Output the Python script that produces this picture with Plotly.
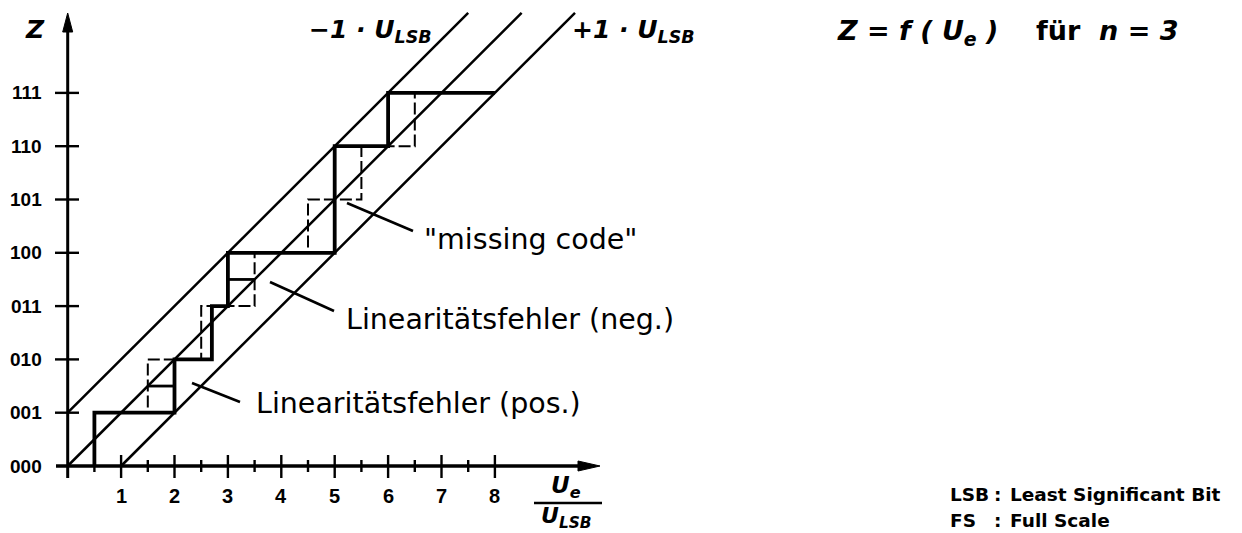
import plotly.graph_objects as go

# ---------------- data ----------------
codes = ["000", "001", "010", "011", "100", "101", "110", "111"]
x_tick_values = [1, 2, 3, 4, 5, 6, 7, 8]
x_tick_labels = ["1", "2", "3", "4", "5", "6", "7", "8"]
# input voltage (in U_LSB) at which the output code steps k -> k+1
ideal_transitions = [0.5, 1.5, 2.5, 3.5, 4.5, 5.5, 6.5]
real_transitions = [0.5, 2.0, 2.7, 3.0, 5.0, 5.0, 6.0]
ue_full_scale = 8.0
error_steps = [1, 3]          # steps whose linearity error is dimensioned
band_offsets = [-1, 0, 1]     # tolerance band lines, in U_LSB
band_top = 8.5

# ---------------- geometry (pixels -> data units) ----------------
W, H = 1242, 533
OX, OY = 67.7, 466.0          # pixel position of the origin
SX, SY = 53.4, 53.3           # pixels per U_LSB / per code


def dx(px):
    return (px - OX) / SX


def dy(py):
    return (OY - py) / SY


X_RANGE = [dx(0), dx(W)]
Y_RANGE = [dy(H), dy(0)]

BLACK = "#000000"
TEXT_FONT = "DejaVu Sans, Liberation Sans, Arial, sans-serif"
TICK_FONT = "Liberation Sans, Arial, sans-serif"


def staircase(transitions, end):
    xs, ys = [], []
    for k, t in enumerate(transitions):
        xs += [t, t]
        ys += [k, k + 1]
    xs.append(end)
    ys.append(len(transitions))
    return xs, ys


fig = go.Figure()

# tolerance band: Z = Ue - offset
for off in band_offsets:
    z0 = max(0.0, -off)
    fig.add_trace(go.Scatter(
        x=[z0 + off, band_top + off], y=[z0, band_top], mode="lines",
        line=dict(color=BLACK, width=2.5), hoverinfo="skip", showlegend=False))

# ideal transfer characteristic (dashed)
xi, yi = staircase(ideal_transitions, ue_full_scale)
fig.add_trace(go.Scatter(
    x=xi, y=yi, mode="lines",
    line=dict(color=BLACK, width=2.0, dash="12px,4px"),
    hoverinfo="skip", showlegend=False))

# real transfer characteristic (solid, heavy)
xr, yr = staircase(real_transitions, ue_full_scale)
fig.add_trace(go.Scatter(
    x=xr, y=yr, mode="lines",
    line=dict(color=BLACK, width=3.8),
    hoverinfo="skip", showlegend=False))

# horizontal dimension of the linearity errors at half step height
for k in error_steps:
    a, b = sorted([ideal_transitions[k], real_transitions[k]])
    fig.add_trace(go.Scatter(
        x=[a, b], y=[k + 0.5, k + 0.5], mode="lines",
        line=dict(color=BLACK, width=2.8), hoverinfo="skip", showlegend=False))

# ---------------- axes ----------------
x_tip = dx(600)
y_tip = dy(13)
head_len_x, head_half_x = 22 / SX, 5 / SY
head_len_y, head_half_y = 19 / SY, 5 / SX

fig.add_trace(go.Scatter(
    x=[dx(56), x_tip - head_len_x], y=[0, 0], mode="lines",
    line=dict(color=BLACK, width=3.4), hoverinfo="skip", showlegend=False))
fig.add_trace(go.Scatter(
    x=[0, 0], y=[dy(478), y_tip - head_len_y], mode="lines",
    line=dict(color=BLACK, width=3.0), hoverinfo="skip", showlegend=False))
# arrow heads
fig.add_trace(go.Scatter(
    x=[x_tip, x_tip - head_len_x, x_tip - head_len_x, x_tip],
    y=[0, head_half_x, -head_half_x, 0], mode="lines", fill="toself",
    fillcolor=BLACK, line=dict(color=BLACK, width=1),
    hoverinfo="skip", showlegend=False))
fig.add_trace(go.Scatter(
    x=[0, head_half_y, -head_half_y, 0],
    y=[y_tip, y_tip - head_len_y, y_tip - head_len_y, y_tip], mode="lines",
    fill="toself", fillcolor=BLACK, line=dict(color=BLACK, width=1),
    hoverinfo="skip", showlegend=False))

# tick marks
tx, ty = [], []
for v in x_tick_values:
    tx += [v, v, None]
    ty += [dy(455), dy(478), None]
for v in x_tick_values:
    m = v - 0.5
    tx += [m, m, None]
    ty += [dy(460), dy(472), None]
for k in range(1, len(codes)):
    tx += [dx(55), dx(79), None]
    ty += [k, k, None]
fig.add_trace(go.Scatter(
    x=tx, y=ty, mode="lines", line=dict(color=BLACK, width=2.4),
    hoverinfo="skip", showlegend=False, connectgaps=False))

annotations = []

# y tick labels (output codes)
for k, c in enumerate(codes):
    annotations.append(dict(
        x=dx(44), y=k, xref="x", yref="y", text="<b>%s</b>" % c,
        showarrow=False, xanchor="right", yanchor="middle",
        font=dict(family=TICK_FONT, size=19, color=BLACK)))

# x tick labels
for v, lab in zip(x_tick_values, x_tick_labels):
    annotations.append(dict(
        x=v, y=dy(496), xref="x", yref="y", text="<b>%s</b>" % lab,
        showarrow=False, xanchor="center", yanchor="middle",
        font=dict(family=TICK_FONT, size=20, color=BLACK)))

# axis titles
annotations.append(dict(
    x=dx(35), y=dy(29), xref="x", yref="y", text="<b><i>Z</i></b>",
    showarrow=False, xanchor="center", yanchor="middle",
    font=dict(family=TEXT_FONT, size=25, color=BLACK)))
annotations.append(dict(
    x=dx(566), y=dy(487), xref="x", yref="y", text="<b><i>U<sub>e</sub></i></b>",
    showarrow=False, xanchor="center", yanchor="middle",
    font=dict(family=TEXT_FONT, size=23, color=BLACK)))
annotations.append(dict(
    x=dx(566), y=dy(517), xref="x", yref="y", text="<b><i>U<sub>LSB</sub></i></b>",
    showarrow=False, xanchor="center", yanchor="middle",
    font=dict(family=TEXT_FONT, size=22, color=BLACK)))

shapes = [dict(type="line", xref="x", yref="y", x0=dx(534), x1=dx(602),
               y0=dy(503), y1=dy(503), line=dict(color=BLACK, width=2.5))]

# tolerance band labels
annotations.append(dict(
    x=dx(434), y=dy(31), xref="x", yref="y",
    text="<b><i>\u22121 \u00b7 U<sub>LSB</sub></i></b>",
    showarrow=False, xanchor="right", yanchor="middle",
    font=dict(family=TEXT_FONT, size=25, color=BLACK)))
annotations.append(dict(
    x=dx(570), y=dy(31), xref="x", yref="y",
    text="<b><i>+1 \u00b7 U<sub>LSB</sub></i></b>",
    showarrow=False, xanchor="left", yanchor="middle",
    font=dict(family=TEXT_FONT, size=25, color=BLACK)))

# title formula
annotations.append(dict(
    x=dx(835), y=dy(32), xref="x", yref="y",
    text="<b><i>Z = f ( U<sub>e</sub> )</i>\u00a0\u00a0\u00a0 f\u00fcr\u00a0\u00a0<i>n = 3</i></b>",
    showarrow=False, xanchor="left", yanchor="middle",
    font=dict(family=TEXT_FONT, size=27, color=BLACK)))

# callouts: leader line start/end and text anchor (pixels)
callouts = [
    ((347, 203), (413, 231), (422, 239), "\"missing code\""),
    ((270, 282), (334, 311), (344, 319), "Linearitätsfehler (neg.)"),
    ((192, 383), (240, 402), (254, 403), "Linearitätsfehler (pos.)"),
]
for (p0, p1, pt, txt) in callouts:
    shapes.append(dict(type="line", xref="x", yref="y",
                       x0=dx(p0[0]), y0=dy(p0[1]), x1=dx(p1[0]), y1=dy(p1[1]),
                       line=dict(color=BLACK, width=2.6)))
    annotations.append(dict(
        x=dx(pt[0]), y=dy(pt[1]), xref="x", yref="y", text=txt,
        showarrow=False, xanchor="left", yanchor="middle",
        font=dict(family=TEXT_FONT, size=28.5, color=BLACK)))

# abbreviation key
key_rows = [("LSB", "Least Significant Bit"), ("FS", "Full Scale")]
for i, (abbr, meaning) in enumerate(key_rows):
    yy = dy(494 + 26 * i)
    for px, t in ((948, abbr), (992, ":"), (1008, meaning)):
        annotations.append(dict(
            x=dx(px), y=yy, xref="x", yref="y", text="<b>%s</b>" % t,
            showarrow=False, xanchor="left", yanchor="middle",
            font=dict(family=TEXT_FONT, size=18.5, color=BLACK)))

fig.update_layout(
    width=W, height=H, autosize=False,
    margin=dict(l=0, r=0, t=0, b=0, pad=0),
    paper_bgcolor="white", plot_bgcolor="white",
    xaxis=dict(range=X_RANGE, visible=False, fixedrange=True),
    yaxis=dict(range=Y_RANGE, visible=False, fixedrange=True),
    annotations=annotations, shapes=shapes, showlegend=False,
)

fig.write_html("out.html")
